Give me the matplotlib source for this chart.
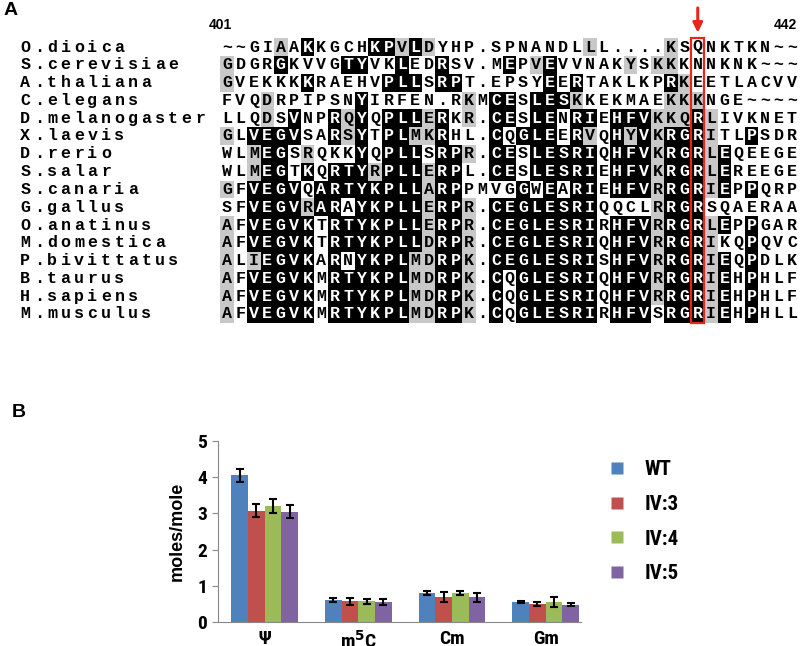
import numpy as np
import matplotlib
matplotlib.use("Agg")
import matplotlib.pyplot as plt
from matplotlib.patches import Rectangle
from matplotlib.lines import Line2D

# --- Panel A: alignment data ---
species = ["O.dioica", "S.cerevisiae", "A.thaliana", "C.elegans", "D.melanogaster",
           "X.laevis", "D.rerio", "S.salar", "S.canaria", "G.gallus", "O.anatinus",
           "M.domestica", "P.bivittatus", "B.taurus", "H.sapiens", "M.musculus"]

sequences = [
    "~~GIAAKKGCHKPVLDYHP.SPNANDLLL....KSQNKTKN~~",
    "GDGRGKVVGTYVKLEDRSV.MEPVEVVNAKYSKKKNNKNK~~~",
    "GVEKKKKRAEHVPLLSRPT.EPSYEERTAKLKPRKEETLACVV",
    "FVQDRPIPSNYIRFEN.RKMCESLESKKEKMAEKKKNGE~~~~",
    "LLQDSVNPRQYQPLLERKR.CESLENRIEHFVKKQRLIVKNET",
    "GLVEGVSARSYTPLMKRHL.CQGLEERVQHYVKRGRITLPSDR",
    "WLMEGSRQKKYQPLLSRPR.CESLESRIQHFVKRGRLEQEEGE",
    "WLMEGTKQRTYRPLLERPL.CESLESRIEHFVKRGRLEREEGE",
    "GFVEGVQARTYKPLLARPPMVGGWEARIEHFVRRGRIEPPQRP",
    "SFVEGVRARAYKPLLERPR.CEGLESRIQQCLRRGRSQAERAA",
    "AFVEGVKTRTYKPLLERPR.CEGLESRIRHFVRRGRLEPPGAR",
    "AFVEGVKTRTYKPLLDRPR.CEGLESRIQHFVRRGRIKQPQVC",
    "ALIEGVKARNYKPLMDRPK.CEGLESRISHFVRRGRIEQPDLK",
    "AFVEGVKMRTYKPLMDRPK.CQGLESRIQHFVRRGRIEHPHLF",
    "AFVEGVKMRTYKPLMDRPK.CQGLESRIQHFVRRGRIEHPHLF",
    "AFVEGVKMRTYKPLMDRPK.CQGLESRIRHFVSRGRIEHPHLL",
]

# shading per cell: '.' none, 'g' similar (grey), 'b' identical (black)
shading = [
    "....g.b... .bbgbg.... .......g.. ...g...... ...",
    "g...b....b b..b..b... .b.gb..... g.gg...... ...",
    "g.....b... ..bbb.bb.. ....b.b... ...bg..... ...",
    "...g...... b.......g. bb.bbbg... ...ggg.... ...",
    "...g.b..bg b.bbbgb.g. bb.bb.bb.b bbgggbg... ...",
    "g.bbbb..bg b.bbggb... b.bbb.bg.b gbgbbbg..b ...",
    "..gbb.g... b.bbb.bbg. bb.bbbbb.b bbgbbbgb.. ...",
    "..gbb.b.bb bgbbbgbb.. bb.bbbbb.b bbgbbbgb.. ...",
    "g.bbbb.bbb bbbbbgbb.. ..b.b.bb.b bbgbbbgb.b ...",
    "..bbbbgbb. bbbbbgbbg. bbbbbbbb.. ..gbbb.... ...",
    "g.bbbbb.bb bbbbbgbbg. bbbbbbbb.b bbgbbbgb.b ...",
    "g.bbbbb.bb bbbbbgbbg. bbbbbbbb.b bbgbbbg..b ...",
    "g.gbbbb.b. bbbbggbbg. bbbbbbbb.b bbgbbbgb.b ...",
    "g.bbbbb.bb bbbbggbbg. b.bbbbbb.b bbgbbbgb.b ...",
    "g.bbbbb.bb bbbbggbbg. b.bbbbbb.b bbgbbbgb.b ...",
    "g.bbbbb.bb bbbbggbbg. b.bbbbbb.b bb.bbbgb.b ...",
]
shading = [s.replace(" ", "") for s in shading]

first_pos, last_pos = "401", "442"
marked_col = 35

# --- Panel B: bar data ---
mods = ["Ψ", "m$^{\\mathbf{5}}$C", "Cm", "Gm"]
strains = ["WT", "IV:3", "IV:4", "IV:5"]
values = {
    "WT":   [4.05, 0.60, 0.80, 0.55],
    "IV:3": [3.08, 0.57, 0.70, 0.50],
    "IV:4": [3.20, 0.57, 0.80, 0.55],
    "IV:5": [3.05, 0.55, 0.68, 0.48],
}
errors = {
    "WT":   [0.18, 0.05, 0.06, 0.03],
    "IV:3": [0.17, 0.10, 0.14, 0.06],
    "IV:4": [0.20, 0.06, 0.05, 0.13],
    "IV:5": [0.17, 0.09, 0.12, 0.05],
}
colors = ["#4f81bd", "#c0504d", "#9bbb59", "#8064a2"]

W, H = 800, 646
fig = plt.figure(figsize=(W / 100, H / 100), dpi=100)

def fx(px):
    return px / W

def fy(py):
    return 1 - py / H

# alignment axes: x = column index, y = row index
ncol = len(sequences[0])
name_start = -15
col0, colw = 227, 13.45
row0, rowh = 47, 17.8
x_left = col0 + (name_start - 0.5) * colw
x_right = col0 + (ncol - 0.5) * colw
y_top = row0 - 0.5 * rowh
y_bot = row0 + (len(species) - 0.5) * rowh
axA = fig.add_axes([fx(x_left), fy(y_bot), fx(x_right - x_left), (y_bot - y_top) / H])
axA.set_xlim(name_start - 0.5, ncol - 0.5)
axA.set_ylim(len(species) - 0.5, -0.5)
axA.axis("off")

mono = dict(family="Liberation Mono", fontsize=12, fontweight="bold")
for r, (name, seq, shade) in enumerate(zip(species, sequences, shading)):
    for i, ch in enumerate(name):
        axA.text(name_start + i, r, ch, ha="center", va="center", color="black", **mono)
    for c, ch in enumerate(seq):
        code = shade[c] if c < len(shade) else "."
        tcol = "black"
        if code == "b":
            axA.add_patch(Rectangle((c - 0.5, r - 0.5), 1, 1, facecolor="black",
                                    edgecolor="none"))
            tcol = "white"
        elif code == "g":
            axA.add_patch(Rectangle((c - 0.5, r - 0.5), 1, 1, facecolor="#c8c8c8",
                                    edgecolor="none"))
        axA.text(c, r, ch, ha="center", va="center", color=tcol, **mono)

axA.add_patch(Rectangle((marked_col - 0.5, -0.5), 1, len(species), fill=False,
                        edgecolor="#e8251b", lw=1.6, clip_on=False))
axA.annotate("", xy=(marked_col, -0.65), xytext=(marked_col, -2.35),
             arrowprops=dict(arrowstyle="-|>", color="#e8251b", lw=2.2,
                             mutation_scale=14), annotation_clip=False)
axA.text(-0.5, -1.25, first_pos, ha="center", va="center", fontsize=10,
         fontweight="bold", family="Liberation Sans", clip_on=False)
axA.text(41.5, -1.25, last_pos, ha="center", va="center", fontsize=10,
         fontweight="bold", family="Liberation Sans", clip_on=False)

fig.text(fx(4), fy(2), "A", ha="left", va="top", fontsize=14, fontweight="bold",
         family="Liberation Sans")
fig.text(fx(12), fy(404), "B", ha="left", va="top", fontsize=14, fontweight="bold",
         family="Liberation Sans")

# --- Panel B: bar chart ---
narrow = ["Liberation Sans Narrow", "Roboto Condensed", "Open Sans Condensed",
          "DejaVu Sans Condensed", "Liberation Sans"]
axB = fig.add_axes([fx(218), fy(622), fx(581 - 218), (622 - 441) / H])
x = np.arange(len(mods))
bw = 0.178
for k, s in enumerate(strains):
    axB.bar(x + (k - 1.5) * bw, values[s], bw, color=colors[k], label=s,
            yerr=errors[s], error_kw=dict(ecolor="black", elinewidth=1.5,
                                          capsize=3, capthick=1.5))
axB.set_xlim(-0.5, len(mods) - 1 + 2 * bw + 0.02)
axB.set_ylim(0, 5)
axB.set_yticks(range(0, 6))
axB.set_xticks(x)
axB.set_xticklabels(mods)
axB.tick_params(axis="x", length=0, pad=6)
axB.tick_params(axis="y", length=4, color="#888888", pad=4)
for lab in axB.get_xticklabels() + axB.get_yticklabels():
    lab.set_family(narrow)
    lab.set_fontweight("bold")
    lab.set_fontstretch("condensed")
    lab.set_fontsize(14)
for sp in ["top", "right"]:
    axB.spines[sp].set_visible(False)
for sp in ["left", "bottom"]:
    axB.spines[sp].set_color("#888888")
axB.set_ylabel("moles/mole", fontsize=13, fontweight="bold",
               family="Liberation Sans", labelpad=8)

handles = [Line2D([0], [0], marker="s", linestyle="none", markersize=8,
                  markerfacecolor=colors[k], markeredgecolor="none") for k in range(4)]
leg = fig.legend(handles, strains, loc="upper left",
                 bbox_to_anchor=(fx(588), fy(452)), frameon=False,
                 labelspacing=0.75, handletextpad=0.3, borderaxespad=0,
                 prop=dict(family=narrow, weight="bold", size=15, stretch="condensed"))

fig.savefig("out.png", dpi=100)
